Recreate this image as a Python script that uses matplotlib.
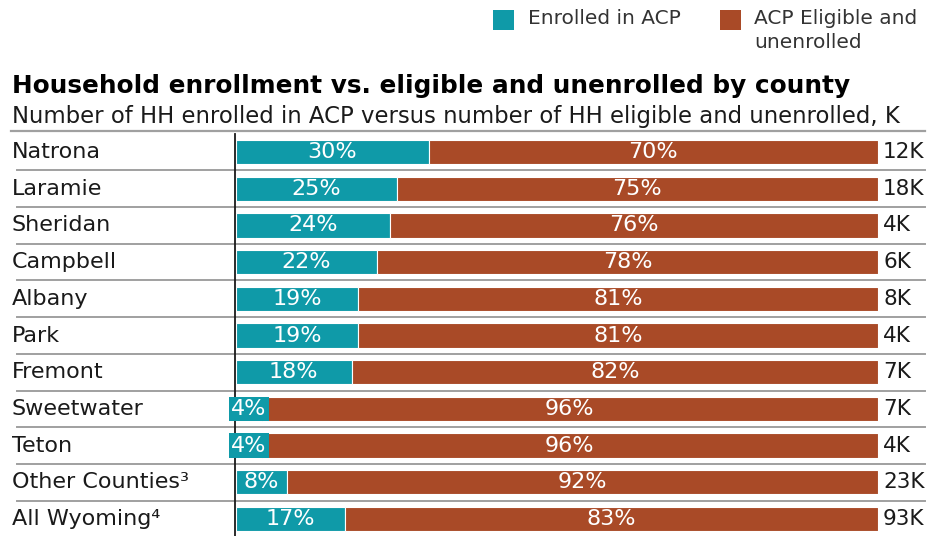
import matplotlib
matplotlib.use("Agg")
import matplotlib.pyplot as plt
from matplotlib.patches import Rectangle

plt.rcParams['font.family'] = ['DejaVu Sans']

counties = ['Natrona', 'Laramie', 'Sheridan', 'Campbell', 'Albany', 'Park',
            'Fremont', 'Sweetwater', 'Teton', 'Other Counties\u00b3', 'All Wyoming\u2074']
enrolled = [30, 25, 24, 22, 19, 19, 18, 4, 4, 8, 17]
unenrolled = [70, 75, 76, 78, 81, 81, 82, 96, 96, 92, 83]
totals = ['12K', '18K', '4K', '6K', '8K', '4K', '7K', '7K', '4K', '23K', '93K']

TEAL = '#0f9aa8'
RUST = '#a94a27'
GRID = '#a0a0a0'
TXT = '#1a1a1a'

W, H = 938, 536
fig = plt.figure(figsize=(W / 100, H / 100), dpi=100)

# bar area in pixels: x 236..878, rows start at y=131
ax = fig.add_axes([236 / W, 0, 642 / W, (536 - 131) / H])
pitch = 36.7
ax.set_xlim(0, 100)
ax.set_ylim((536 - 152) / pitch, (131 - 152) / pitch)
ax.axis('off')

def px(x):
    # figure pixel x -> data x
    return (x - 236) / 6.42

rows = list(range(len(counties)))
ax.barh(rows, enrolled, height=0.66, color=TEAL, edgecolor='white', linewidth=0.8)
ax.barh(rows, unenrolled, left=enrolled, height=0.66, color=RUST,
        edgecolor='white', linewidth=0.8)

for i, (name, e, u, t) in enumerate(zip(counties, enrolled, unenrolled, totals)):
    ax.text(px(12), i, name, ha='left', va='center', fontsize=16, color=TXT,
            clip_on=False)
    ax.text(px(883), i, t, ha='left', va='center', fontsize=15.5, color=TXT,
            clip_on=False)
    box = None
    if e < 6:
        box = dict(boxstyle='square,pad=0.1', facecolor=TEAL, edgecolor='none')
    ax.text(e / 2, i, f'{e}%', ha='center', va='center', fontsize=16,
            color='white', bbox=box)
    ax.text(e + u / 2, i, f'{u}%', ha='center', va='center', fontsize=16,
            color='white')
    if i < len(counties) - 1:
        ax.plot([px(17), px(925)], [i + 0.5, i + 0.5], color=GRID, lw=1.4,
                clip_on=False, zorder=0)

ylim_top = ax.get_ylim()[1]
ax.plot([px(11), px(925)], [ylim_top, ylim_top], color=GRID, lw=1.6, clip_on=False)
ax.plot([-0.15, -0.15], [-0.5, ax.get_ylim()[0]], color=TXT, lw=1.3, clip_on=False)

fig.text(12 / W, 1 - 86 / H, 'Household enrollment vs. eligible and unenrolled by county',
         ha='left', va='center', fontsize=17.8, fontweight='bold', color='black')
fig.text(12 / W, 1 - 116 / H,
         'Number of HH enrolled in ACP versus number of HH eligible and unenrolled, K',
         ha='left', va='center', fontsize=16.4, color=TXT)

# legend
fig.add_artist(Rectangle((493 / W, 1 - 30 / H), 21 / W, 20 / H, transform=fig.transFigure,
                         facecolor=TEAL, edgecolor='none'))
fig.text(528 / W, 1 - 19 / H, 'Enrolled in ACP', ha='left', va='center',
         fontsize=14.5, color='#333333')
fig.add_artist(Rectangle((720 / W, 1 - 30 / H), 21 / W, 20 / H, transform=fig.transFigure,
                         facecolor=RUST, edgecolor='none'))
fig.text(754 / W, 1 - 18 / H, 'ACP Eligible and', ha='left', va='center',
         fontsize=14.5, color='#333333')
fig.text(754 / W, 1 - 43 / H, 'unenrolled', ha='left', va='center',
         fontsize=14.5, color='#333333')

fig.savefig('out.png', dpi=100, facecolor='white')
